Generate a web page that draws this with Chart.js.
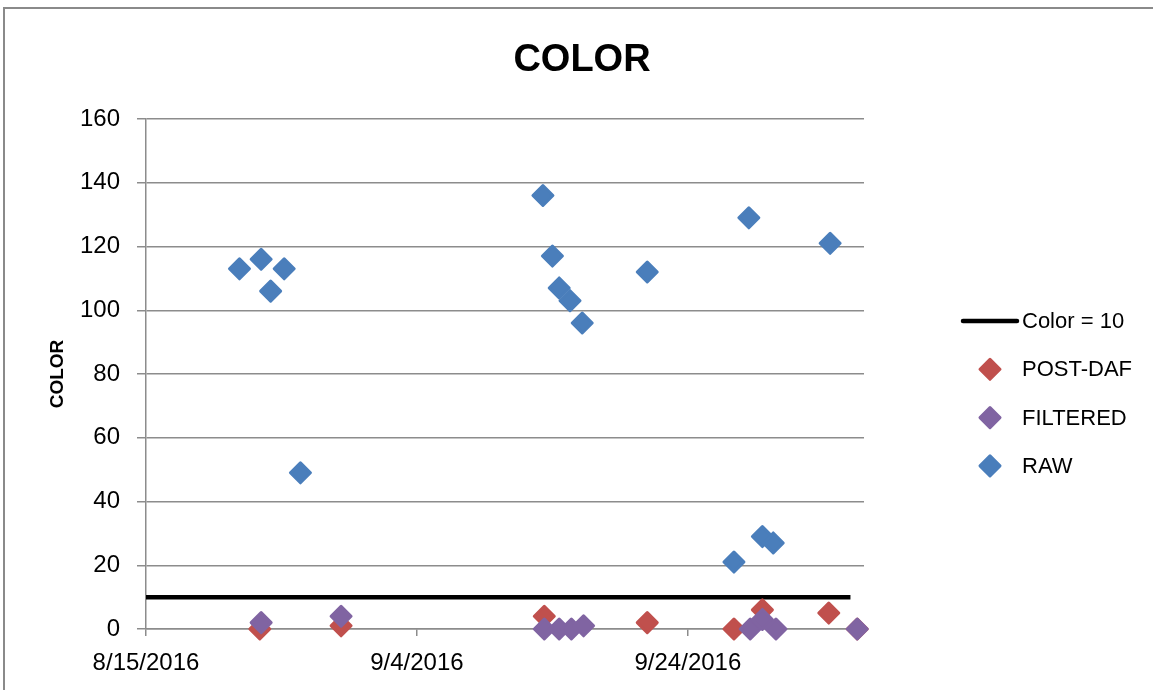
<!DOCTYPE html>
<html lang="en">
<head>
<meta charset="UTF-8">
<title>COLOR</title>
<style>
  html, body { margin: 0; padding: 0; background: #fff; overflow: hidden; }
  #wrap { position: relative; width: 1153px; height: 690px; }
  #frame { position: absolute; left: 3px; top: 7px; width: 1300px; height: 800px; border: 2px solid #8a8a8a; box-sizing: border-box; }
  #chart { position: absolute; left: 0; top: 0; }
</style>
</head>
<body>
<div id="wrap">
  <div id="frame"></div>
  <canvas id="chart" width="1153" height="690"></canvas>
</div>
<script src="https://cdn.jsdelivr.net/npm/chart.js"></script>
<script>
// x values are days after 8/15/2016
const limitDays = [0, 52];
const limitColor = [10, 10];

const postDafDays = [8.4, 14.4, 29.4, 37.0, 43.4, 45.5, 50.4, 52.5];
const postDafColor = [0, 1, 4, 2, 0, 6, 5, 0];

const filteredDays = [8.5, 14.4, 29.4, 30.5, 31.4, 32.3, 44.6, 45.5, 46.5, 52.5];
const filteredColor = [2, 4, 0, 0, 0, 1, 0, 3, 0, 0];

const rawDays = [6.9, 8.5, 9.2, 10.2, 11.4, 29.3, 30.0, 30.5, 31.3, 32.2, 37.0, 43.4, 44.5, 45.5, 46.3, 50.5];
const rawColor = [113, 116, 106, 113, 49, 136, 117, 107, 103, 96, 112, 21, 129, 29, 27, 121];

const xTickDays = [0, 20, 40];
const xMaxDays = 53;

const FONT = '"Liberation Sans", Arial, sans-serif';
const GRID = '#8c8c8c';

function pts(xs, ys) { return xs.map((x, i) => ({ x: x, y: ys[i] })); }
function dayLabel(d) {
  const dt = new Date(2016, 7, 15 + d);
  return (dt.getMonth() + 1) + '/' + dt.getDate() + '/' + dt.getFullYear();
}

// rounded diamonds like the Excel markers
const roundMarkers = {
  id: 'roundMarkers',
  beforeDatasetsDraw(chart) { chart.ctx.save(); chart.ctx.lineJoin = 'round'; },
  afterDatasetsDraw(chart) { chart.ctx.restore(); }
};

// title centred over the whole frame + legend on the right
const sideLegend = {
  id: 'sideLegend',
  afterDraw(chart) {
    const ctx = chart.ctx;
    const x = chart.chartArea.right;
    const top = chart.chartArea.top;
    ctx.save();
    ctx.fillStyle = '#000';
    ctx.textAlign = 'center';
    ctx.textBaseline = 'middle';
    ctx.font = 'bold 38px ' + FONT;
    ctx.fillText('COLOR', 582, 61);

    ctx.textAlign = 'left';
    ctx.font = '22px ' + FONT;
    ctx.lineJoin = 'round';
    chart.data.datasets.forEach((ds, i) => {
      const y = top + 202 + i * 48.3;
      if (ds.showLine) {
        ctx.strokeStyle = ds.borderColor;
        ctx.lineWidth = ds.borderWidth;
        ctx.lineCap = 'round';
        ctx.beginPath(); ctx.moveTo(x + 99, y); ctx.lineTo(x + 153, y); ctx.stroke();
      } else {
        const cx = x + 126, r = ds.pointRadius;
        ctx.fillStyle = ds.backgroundColor;
        ctx.strokeStyle = ds.borderColor;
        ctx.lineWidth = ds.pointBorderWidth;
        ctx.beginPath();
        ctx.moveTo(cx - r, y); ctx.lineTo(cx, y - r); ctx.lineTo(cx + r, y); ctx.lineTo(cx, y + r);
        ctx.closePath(); ctx.fill(); ctx.stroke();
      }
      ctx.fillStyle = '#000';
      ctx.fillText(ds.label, x + 158, y + 1);
    });
    ctx.restore();
  }
};

function marker(color, order) {
  return { pointStyle: 'rectRot', pointRadius: 10, pointHoverRadius: 10, backgroundColor: color, borderColor: color, pointBorderWidth: 3, order: order, clip: false };
}

Chart.defaults.font.family = FONT;
Chart.defaults.color = '#000';

new Chart(document.getElementById('chart'), {
  type: 'scatter',
  data: {
    datasets: [
      { label: 'Color = 10', data: pts(limitDays, limitColor), showLine: true, borderColor: '#000', borderWidth: 4.5, pointRadius: 0, order: 4 },
      Object.assign({ label: 'POST-DAF', data: pts(postDafDays, postDafColor) }, marker('#C0504D', 3)),
      Object.assign({ label: 'FILTERED', data: pts(filteredDays, filteredColor) }, marker('#8064A2', 2)),
      Object.assign({ label: 'RAW', data: pts(rawDays, rawColor) }, marker('#4A7EBB', 1))
    ]
  },
  options: {
    responsive: false,
    animation: false,
    layout: { padding: { left: 0, right: 289, top: 119, bottom: 0 } },
    plugins: {
      legend: { display: false },
      tooltip: { enabled: false },
      title: { display: false }
    },
    scales: {
      x: {
        type: 'linear', min: 0, max: xMaxDays,
        afterBuildTicks: s => { s.ticks = xTickDays.map(v => ({ value: v })); },
        afterFit: s => { s.height = 61; },
        grid: { drawOnChartArea: false, drawTicks: true, tickLength: 7, color: GRID, lineWidth: 1.5 },
        border: { color: GRID, width: 1.5 },
        ticks: { callback: v => dayLabel(v), font: { size: 24 }, color: '#000', padding: 13, maxRotation: 0 }
      },
      y: {
        min: 0, max: 160,
        afterFit: s => { s.width = 146; },
        grid: { tickLength: 9, color: GRID, lineWidth: 1.5 },
        border: { color: GRID, width: 1.5 },
        ticks: { stepSize: 20, font: { size: 24 }, color: '#000', padding: 17 },
        title: { display: true, text: 'COLOR', color: '#000', font: { size: 19, weight: 'bold' }, padding: { top: 46, bottom: 0 } }
      }
    }
  },
  plugins: [roundMarkers, sideLegend]
});
</script>
</body>
</html>
